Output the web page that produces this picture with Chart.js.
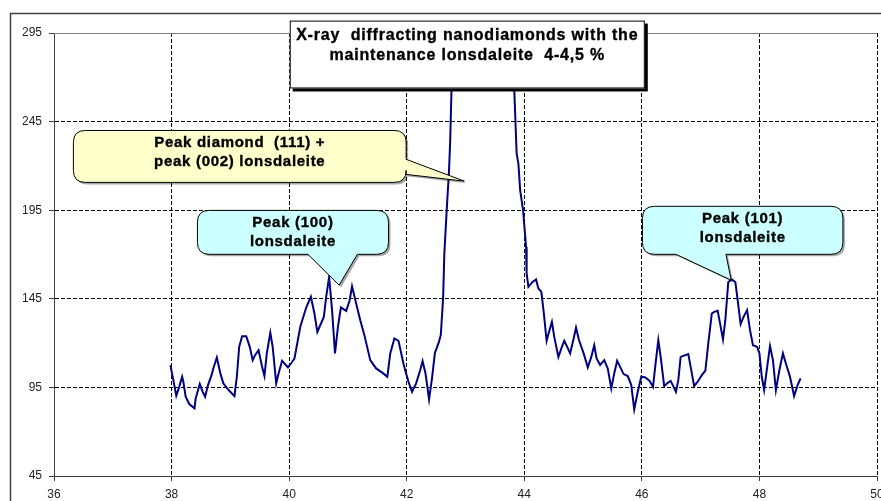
<!DOCTYPE html>
<html>
<head>
<meta charset="utf-8">
<script src="https://cdn.jsdelivr.net/npm/chart.js@4.4.0/dist/chart.umd.min.js"></script>
<style>
  html, body { margin: 0; padding: 0; background: #fff; }
  #chart { display: block; }
</style>
</head>
<body>
<canvas id="chart" width="881" height="501"></canvas>
<script>
/* ============================================================
   X-ray diffractogram — nanodiamonds with lonsdaleite
   ============================================================ */

/* ---- Data ---- */
const twoTheta = [
  37.98, 38.03, 38.08, 38.13, 38.18, 38.20, 38.24, 38.30, 38.39, 38.41,
  38.48, 38.53, 38.57, 38.62, 38.68, 38.71, 38.77, 38.83, 38.88, 38.97,
  39.07, 39.11, 39.15, 39.20, 39.27, 39.33, 39.38, 39.42, 39.48, 39.54,
  39.58, 39.62, 39.68, 39.72, 39.78, 39.82, 39.88, 39.98, 40.04, 40.09,
  40.19, 40.29, 40.37, 40.43, 40.48, 40.59, 40.63, 40.68, 40.73, 40.78,
  40.83, 40.88, 40.97, 41.03, 41.07, 41.14, 41.21, 41.28, 41.38, 41.48,
  41.60, 41.67, 41.72, 41.79, 41.86, 41.95, 42.03, 42.09, 42.16, 42.23,
  42.27, 42.32, 42.38, 42.43, 42.48, 42.54, 42.58, 42.62, 42.64, 42.68,
  42.72, 42.74, 42.76, 42.80, 43.00, 43.30, 43.60, 43.80, 43.83, 43.87,
  43.90, 43.93, 43.98, 44.03, 44.04, 44.07, 44.14, 44.20, 44.24, 44.29,
  44.33, 44.38, 44.42, 44.47, 44.51, 44.58, 44.64, 44.68, 44.73, 44.78,
  44.84, 44.88, 44.93, 45.01, 45.08, 45.14, 45.19, 45.23, 45.29, 45.36,
  45.42, 45.48, 45.53, 45.58, 45.63, 45.69, 45.76, 45.82, 45.87, 45.93,
  45.99, 46.06, 46.13, 46.19, 46.23, 46.28, 46.32, 46.38, 46.44, 46.49,
  46.54, 46.58, 46.62, 46.66, 46.74, 46.79, 46.83, 46.89, 46.95, 47.02,
  47.08, 47.13, 47.19, 47.23, 47.29, 47.33, 47.38, 47.42, 47.47, 47.53,
  47.59, 47.63, 47.68, 47.73, 47.79, 47.84, 47.89, 47.96, 48.00, 48.04,
  48.08, 48.14, 48.18, 48.23, 48.28, 48.34, 48.40, 48.45, 48.52, 48.59,
  48.65, 48.70
];

const intensity = [
  107.6, 99.1, 90.3, 95.3, 101.0, 98.2, 89.7, 85.6, 83.2, 88.8,
  96.9, 92.5, 89.7, 96.3, 101.9, 105.7, 111.9, 102.9, 97.3, 93.5,
  90.1, 101.0, 117.9, 123.9, 123.9, 117.9, 110.4, 113.2, 116.0, 106.6,
  101.4, 114.2, 125.8, 117.9, 97.3, 102.9, 110.0, 106.3, 108.9, 111.3,
  129.2, 140.1, 146.1, 136.7, 126.3, 134.8, 146.1, 157.3, 138.6, 114.2,
  129.2, 140.1, 138.2, 144.2, 152.1, 142.4, 132.9, 124.5, 110.4, 105.7,
  102.9, 101.0, 114.2, 122.6, 121.3, 107.6, 98.2, 92.5, 97.3, 104.8,
  109.8, 102.9, 88.2, 100.1, 114.5, 119.8, 124.5, 146.1, 170.5, 194.9,
  217.5, 234.4, 260.7, 310, 520, 640, 520, 300, 262.6, 226.9,
  221.3, 206.2, 194.9, 174.3, 159.3, 151.7, 154.5, 155.9, 150.8, 148.9,
  137.6, 121.3, 126.3, 132.0, 123.5, 112.2, 117.9, 121.3, 117.9, 114.2,
  122.6, 128.8, 121.7, 114.2, 106.3, 112.2, 118.8, 111.3, 107.6, 110.4,
  105.7, 94.4, 102.9, 110.0, 106.6, 102.5, 101.4, 96.3, 82.6, 92.5,
  101.0, 100.6, 98.7, 95.3, 107.6, 121.7, 112.2, 95.7, 97.6, 98.7,
  95.3, 92.5, 99.1, 112.2, 113.2, 113.8, 106.6, 95.7, 98.2, 101.9,
  104.4, 119.8, 136.7, 137.6, 138.2, 131.1, 122.1, 132.9, 154.5, 155.9,
  154.5, 144.2, 130.7, 134.8, 138.6, 127.3, 118.8, 117.9, 114.2, 101.0,
  93.5, 108.5, 118.3, 110.4, 93.5, 104.8, 114.2, 108.5, 101.0, 90.1,
  96.3, 100.1
];

const xTicks = [36, 38, 40, 42, 44, 46, 48, 50];
const yTicks = [45, 95, 145, 195, 245, 295];

const titleLines = [
  'X-ray  diffracting nanodiamonds with the',
  'maintenance lonsdaleite  4-4,5 %'
];

/* ---- Annotation layout (in axis units) ---- */
const titleBox = { x1: 40.01, x2: 46.05, y1: 302.0, y2: 263.7 };

const callouts = [
  {
    lines: ['Peak diamond  (111) +', 'peak (002) lonsdaleite'],
    fill: '#FFFFCC',
    box: { x1: 36.33, x2: 41.99, y1: 240.0, y2: 210.7 },
    side: 'right', base: [223.7, 215.2], tip: [42.98, 211.4],
  },
  {
    lines: ['Peak (100)', 'lonsdaleite'],
    fill: '#CCFFFF',
    box: { x1: 38.44, x2: 41.69, y1: 194.9, y2: 170.1 },
    side: 'bottom', base: [40.32, 41.16], tip: [40.85, 152.7],
  },
  {
    lines: ['Peak (101)', 'lonsdaleite'],
    fill: '#CCFFFF',
    box: { x1: 46.01, x2: 49.42, y1: 197.2, y2: 170.1 },
    side: 'bottom', base: [46.58, 47.43], tip: [47.52, 155.5],
  },
];

const FONT = "'Liberation Sans', Arial, sans-serif";

/* ---- Helpers ---- */

function _calloutPath(ctx, l, t, r, b, rad, c, ptr) {
  ctx.beginPath();
  ctx.moveTo(l + rad, t);
  ctx.lineTo(r - rad, t);
  ctx.quadraticCurveTo(r, t, r, t + rad);
  if (c.side === 'right') {
    ctx.lineTo(r, ptr.a);
    ctx.lineTo(ptr.tx, ptr.ty);
    ctx.lineTo(r, ptr.b);
  }
  ctx.lineTo(r, b - rad);
  ctx.quadraticCurveTo(r, b, r - rad, b);
  if (c.side === 'bottom') {
    ctx.lineTo(ptr.b, b);
    ctx.lineTo(ptr.tx, ptr.ty);
    ctx.lineTo(ptr.a, b);
  }
  ctx.lineTo(l + rad, b);
  ctx.quadraticCurveTo(l, b, l, b - rad);
  ctx.lineTo(l, t + rad);
  ctx.quadraticCurveTo(l, t, l + rad, t);
  ctx.closePath();
}

function _drawLines(ctx, lines, cx, top, gap, size, spacing) {
  ctx.fillStyle = '#000';
  ctx.strokeStyle = '#000';
  ctx.lineWidth = 0.35;
  ctx.font = `bold ${size}px ${FONT}`;
  ctx.textAlign = 'center';
  ctx.textBaseline = 'middle';
  ctx.letterSpacing = spacing + 'px';
  lines.forEach((s, i) => {
    ctx.fillText(s, cx, top + i * gap);
    ctx.strokeText(s, cx, top + i * gap);
  });
  ctx.letterSpacing = '0px';
}

/* ---- Decoration plugin: frame, title box, callouts ---- */
const decorations = {
  id: 'decorations',
  afterDraw(chart) {
    const { ctx, chartArea: area, scales: { x, y } } = chart;
    const px = v => x.getPixelForValue(v);
    const py = v => y.getPixelForValue(v);

    ctx.save();

    // solid top edge of the plot area
    ctx.strokeStyle = '#808080';
    ctx.lineWidth = 1;
    ctx.beginPath();
    ctx.moveTo(area.left, area.top + 0.5);
    ctx.lineTo(area.right, area.top + 0.5);
    ctx.stroke();

    // outer chart frame
    ctx.strokeStyle = '#404040';
    ctx.lineWidth = 1.5;
    ctx.strokeRect(10.5, 13.5, 1000, 1000);

    // callouts
    callouts.forEach(c => {
      const l = px(c.box.x1), r = px(c.box.x2);
      const t = py(c.box.y1), b = py(c.box.y2);
      const ptr = c.side === 'right'
        ? { a: py(c.base[0]), b: py(c.base[1]) }
        : { a: px(c.base[0]), b: px(c.base[1]) };
      ptr.tx = px(c.tip[0]);
      ptr.ty = py(c.tip[1]);

      ctx.save();
      ctx.shadowColor = 'rgba(0,0,0,0.35)';
      ctx.shadowOffsetX = 2;
      ctx.shadowOffsetY = 2;
      _calloutPath(ctx, l, t, r, b, 12, c, ptr);
      ctx.fillStyle = c.fill;
      ctx.fill();
      ctx.restore();
      _calloutPath(ctx, l, t, r, b, 12, c, ptr);
      ctx.strokeStyle = '#000';
      ctx.lineWidth = 1;
      ctx.stroke();

      _drawLines(ctx, c.lines, (l + r) / 2, t + 12.5, 19, 15, 0.7);
    });

    // title box with hard shadow
    const tl = px(titleBox.x1), tr = px(titleBox.x2);
    const tt = py(titleBox.y1), tb = py(titleBox.y2);
    ctx.fillStyle = '#000';
    ctx.fillRect(tl + 3, tt + 3, tr - tl, tb - tt);
    ctx.fillStyle = '#fff';
    ctx.fillRect(tl, tt, tr - tl, tb - tt);
    ctx.strokeStyle = '#000';
    ctx.lineWidth = 1;
    ctx.strokeRect(tl + 0.5, tt + 0.5, tr - tl - 1, tb - tt - 1);
    _drawLines(ctx, titleLines, (tl + tr) / 2, tt + 15, 20, 16, 0.8);

    ctx.restore();
  },
};

/* ---- Chart ---- */
const ctx = document.getElementById('chart').getContext('2d');

const tickFont = { family: FONT, size: 12 };

new Chart(ctx, {
  type: 'line',
  data: {
    datasets: [{
      data: twoTheta.map((t, i) => ({ x: t, y: intensity[i] })),
      borderColor: '#000080',
      borderWidth: 2,
      pointRadius: 0,
      tension: 0,
      fill: false,
    }],
  },
  options: {
    responsive: false,
    animation: false,
    devicePixelRatio: 1,
    layout: { padding: { top: 33, right: 4, left: 0, bottom: 0 } },
    plugins: {
      legend: { display: false },
      tooltip: { enabled: false },
    },
    scales: {
      x: {
        type: 'linear',
        min: 36,
        max: 50,
        afterBuildTicks: s => { s.ticks = xTicks.map(v => ({ value: v })); },
        afterFit: s => { s.height = 25; s.paddingLeft = 0; s.paddingRight = 0; },
        grid: {
          color: '#000',
          lineWidth: 1,
          tickLength: 5,
          tickColor: '#404040',
        },
        border: { display: true, color: '#404040', width: 1, dash: [4, 2] },
        ticks: { color: '#222', font: tickFont, padding: 6, maxRotation: 0 },
      },
      y: {
        type: 'linear',
        min: 45,
        max: 295,
        afterBuildTicks: s => { s.ticks = yTicks.map(v => ({ value: v })); },
        afterFit: s => { s.width = 54; s.paddingTop = 0; s.paddingBottom = 0; },
        grid: {
          color: c => (c.tick && c.tick.value === 295 ? 'rgba(0,0,0,0)' : '#000'),
          lineWidth: 1,
          tickLength: 5,
          tickColor: '#404040',
        },
        border: { display: true, color: '#404040', width: 1, dash: [4, 2] },
        ticks: { color: '#222', font: tickFont, padding: 7 },
      },
    },
  },
  plugins: [decorations],
});
</script>
</body>
</html>
